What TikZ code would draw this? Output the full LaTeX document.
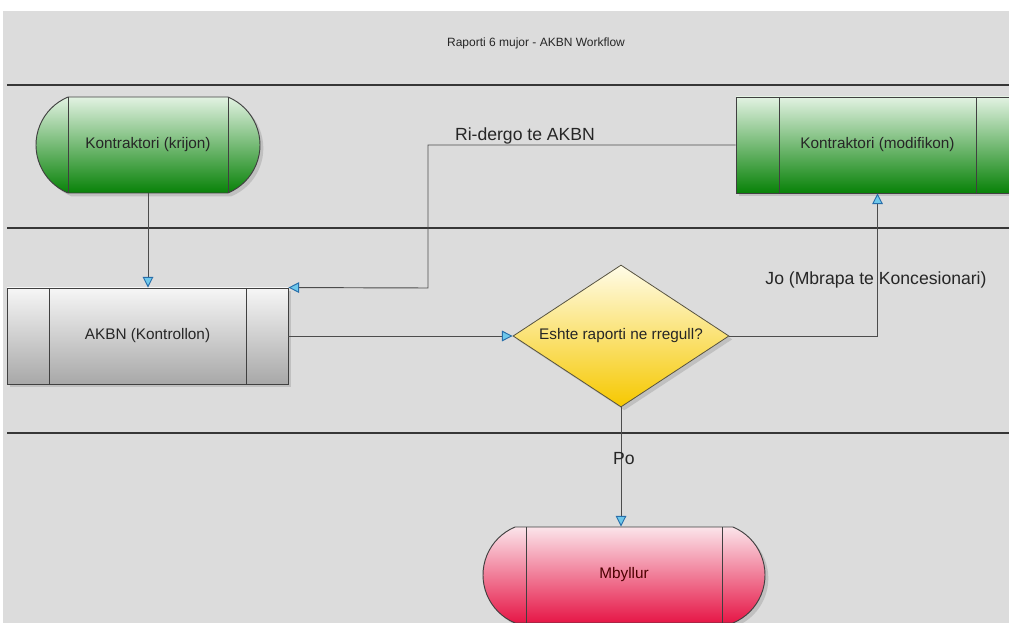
\documentclass[tikz,border=0pt]{standalone}
\usepackage{fontspec}
\setmainfont{Liberation Sans}
\usetikzlibrary{shapes.geometric,shapes.misc,shadows,arrows.meta}
\definecolor{sfondi}{RGB}{220,220,220}
\definecolor{vija}{RGB}{55,55,55}
\definecolor{jeshilelart}{RGB}{226,242,226}
\definecolor{jeshileposht}{RGB}{8,130,8}
\definecolor{grilart}{RGB}{246,246,246}
\definecolor{griposht}{RGB}{168,168,168}
\definecolor{verdhelart}{RGB}{255,252,232}
\definecolor{verdheposht}{RGB}{246,200,0}
\definecolor{kuqlart}{RGB}{251,228,234}
\definecolor{kuqposht}{RGB}{230,22,70}
\definecolor{majeblu}{RGB}{110,200,235}
\definecolor{majeskaj}{RGB}{40,110,170}
\tikzset{
  hije/.style={drop shadow={opacity=0.3,shadow xshift=2.5pt,shadow yshift=-2.5pt}},
  ndarje/.style={path picture={
      \draw[black!75,line width=0.7pt]
        ([xshift=-#1]path picture bounding box.north) -- ([xshift=-#1]path picture bounding box.south)
        ([xshift=#1]path picture bounding box.north) -- ([xshift=#1]path picture bounding box.south);}},
  procbox/.style={rectangle, draw=black!75, line width=0.7pt, minimum height=72pt, inner sep=0pt,
      font=\fontsize{11.5}{13}\selectfont, text=black!85, hije},
  terminal/.style={rounded rectangle, rounded rectangle arc length=135, draw=black!75, line width=0.7pt,
      minimum height=72pt, inner sep=0pt, font=\fontsize{11.5}{13}\selectfont, text=black!85, hije},
  vendim/.style={diamond, aspect=1.52, draw=black!60!yellow!60!black, line width=0.6pt, minimum width=162pt, minimum height=106.5pt,
      inner sep=0pt, top color=verdhelart, bottom color=verdheposht,
      font=\fontsize{11.5}{13}\selectfont, text=black!85, hije},
  jeshile/.style={top color=jeshilelart, bottom color=jeshileposht},
  gri/.style={top color=grilart, bottom color=griposht},
  kuq/.style={top color=kuqlart, bottom color=kuqposht},
  rrjedh/.style={draw=black!70, line width=0.7pt, -{Triangle[length=8pt,width=8pt,fill=majeblu,color=majeskaj]}},
  lbl/.style={font=\fontsize{13.2}{15}\selectfont, text=black!85, inner sep=1pt},
  korsi/.style={draw=vija, line width=1.4pt}
}
\begin{document}
\begin{tikzpicture}[x=0.75pt,y=-0.75pt]
  \useasboundingbox (0,0) rectangle (1009,623);
  \fill[white] (0,0) rectangle (1009,623);
  \clip (0,0) rectangle (1009,623);
  \fill[sfondi] (3,11) rectangle (1009,623);
  % korsite
  \draw[korsi] (7,85) -- (1009,85);
  \draw[korsi] (7,228) -- (1009,228);
  \draw[korsi] (7,433) -- (1009,433);
  \node[font=\fontsize{9}{11}\selectfont, text=black!85] (titulli) at (536,43) {Raporti 6 mujor - AKBN Workflow};

  % hapat
  \node[terminal, jeshile, ndarje=60pt, minimum width=168pt] (krijon) at (148,145) {Kontraktori (krijon)};
  \node[procbox, jeshile, ndarje=73.9pt, minimum width=212.25pt] (modifikon) at (877.5,145) {Kontraktori (modifikon)};
  \node[procbox, gri, ndarje=73.9pt, minimum width=210.75pt] (akbn) at (147.5,336) {AKBN (Kontrollon)};
  \node[vendim] (rregull) at (621,336) {Eshte raporti ne rregull?};
  \node[terminal, kuq, ndarje=73.5pt, minimum width=211.5pt, text=black!70!red] (mbyllur) at (624,575) {Mbyllur};

  % lidhjet
  \coordinate (kthim) at (428,288);
  \draw[rrjedh] (krijon.south) -- (krijon.south |- akbn.north);
  \draw[rrjedh] (modifikon.west) -| (kthim) -- (akbn.north east);
  \draw[rrjedh] (akbn.east) -- (rregull.west);
  \draw[rrjedh] (rregull.east) -| (modifikon.south);
  \draw[rrjedh] (rregull.south) -- (rregull.south |- mbyllur.north);

  \node[lbl] (ridergo) at (525,136) {Ri-dergo te AKBN};
  \node[lbl] (jo) at (876,280) {Jo (Mbrapa te Koncesionari)};
  \node[lbl] (po) at (624,459) {Po};
\end{tikzpicture}
\end{document}
